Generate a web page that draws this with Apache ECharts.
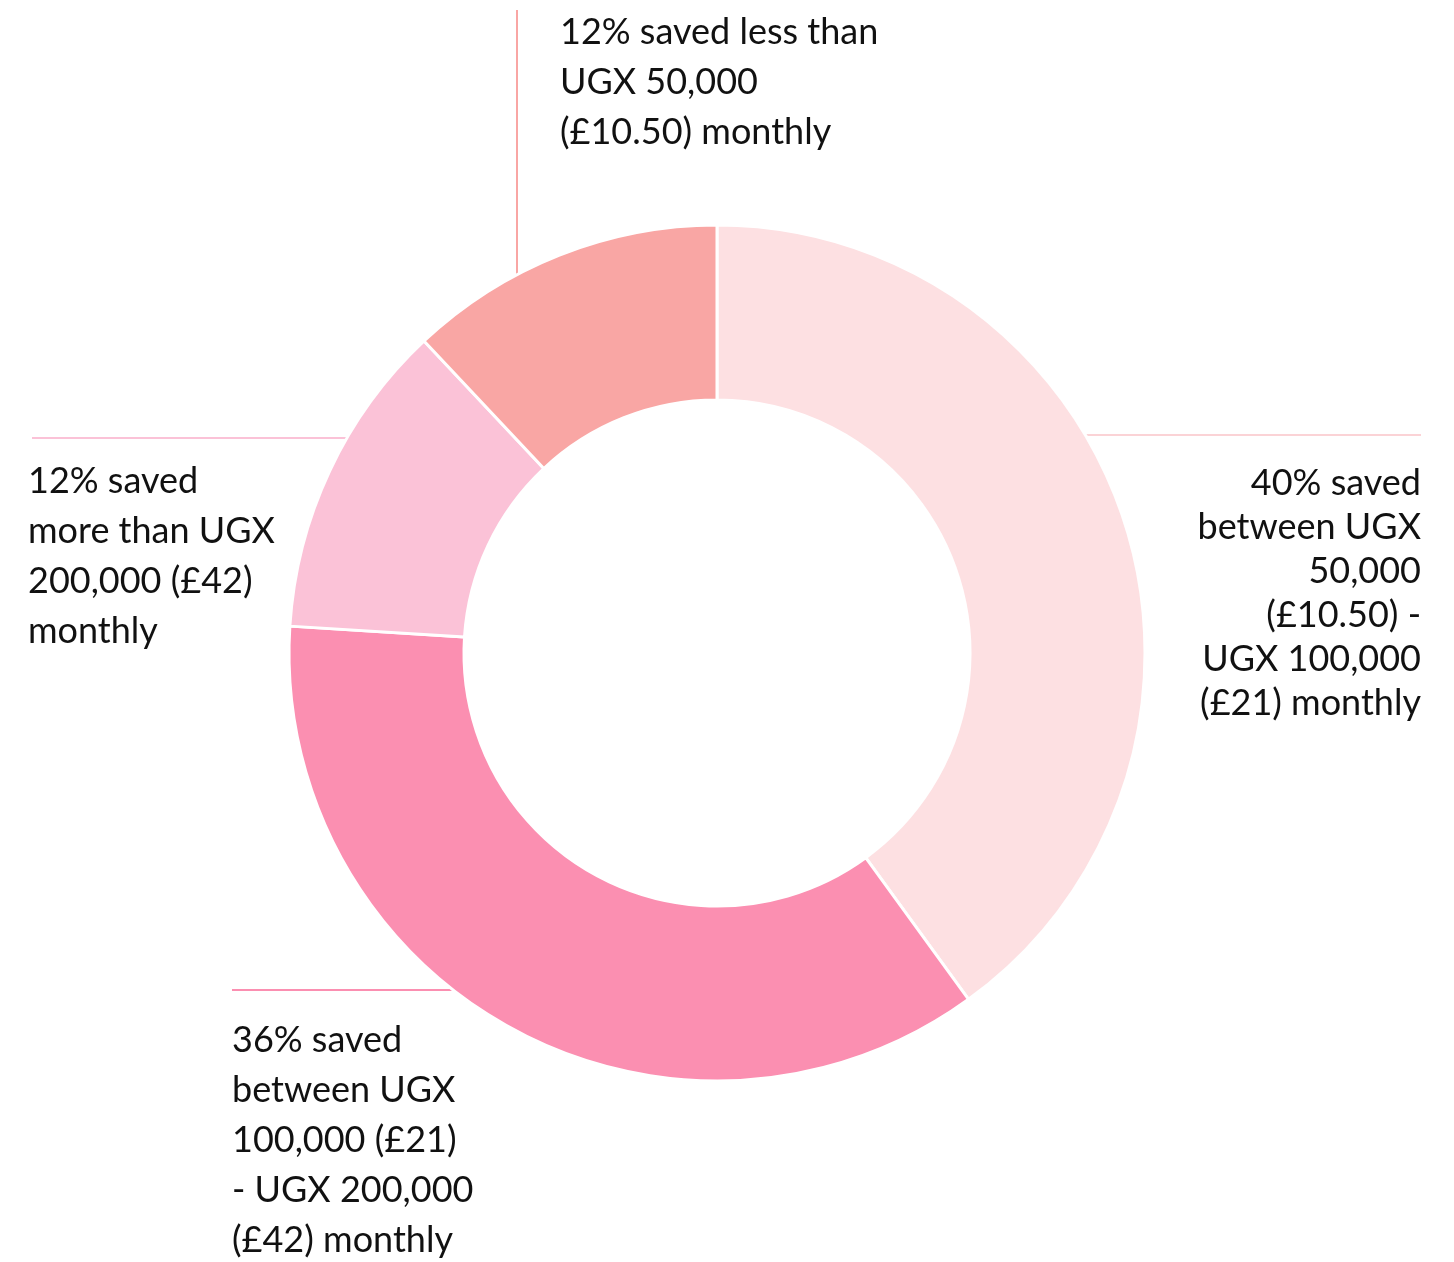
<!DOCTYPE html>
<html>
<head>
<meta charset="utf-8">
<script src="https://cdn.jsdelivr.net/npm/echarts@6/dist/echarts.min.js"></script>
<style>
html,body{margin:0;padding:0;background:#fff;}
#c{width:1454px;height:1262px;}
</style>
</head>
<body>
<div id="c"></div>
<script>
// ---- data ----
const categories = [
  "40% saved\nbetween UGX\n50,000\n(£10.50) -\nUGX 100,000\n(£21) monthly",
  "36% saved\nbetween UGX\n100,000 (£21)\n- UGX 200,000\n(£42) monthly",
  "12% saved\nmore than UGX\n200,000 (£42)\nmonthly",
  "12% saved less than\nUGX 50,000\n(£10.50) monthly"
];
const values = [40, 36, 12, 12];
const colors = ["#fde0e2", "#fb8fb1", "#fbc2d7", "#f9a6a4"];

// ---- layout (positions of labels / leader lines) ----
const CX = 717, CY = 653, R0 = 253, R1 = 428;
const labelLayouts = [
  {x: 1421, y: 461, align: 'right', lh: 44, line: {dir: 'h', at: 435, side: 1, end: 1421}},
  {x: 232, y: 1015, align: 'left', lh: 50, line: {dir: 'h', at: 990, side: -1, end: 232}},
  {x: 28, y: 456, align: 'left', lh: 50, line: {dir: 'h', at: 438, side: -1, end: 32}},
  {x: 560, y: 7, align: 'left', lh: 50, line: {dir: 'v', at: 517, side: -1, end: 10}}
];

function linePts(l) {
  if (l.dir === 'h') {
    const dx = Math.sqrt(R1 * R1 - (l.at - CY) * (l.at - CY));
    const sx = CX + l.side * dx;
    return [[sx, l.at], [sx, l.at], [l.end, l.at]];
  } else {
    const dy = Math.sqrt(R1 * R1 - (l.at - CX) * (l.at - CX));
    const sy = CY + l.side * dy;
    return [[l.at, sy], [l.at, sy], [l.at, l.end]];
  }
}

const chart = echarts.init(document.getElementById('c'), null, {renderer: 'canvas'});
chart.setOption({
  animation: false,
  series: [{
    type: 'pie',
    center: [CX, CY],
    radius: [R0, R1],
    startAngle: 90,
    clockwise: true,
    avoidLabelOverlap: false,
    itemStyle: {borderColor: '#fff', borderWidth: 3},
    emphasis: {disabled: true},
    label: {
      show: true,
      formatter: p => p.name,
      fontFamily: 'Lato',
      fontSize: 36,
      color: '#111'
    },
    labelLine: {show: true, lineStyle: {width: 2}},
    labelLayout: function (params) {
      const L = labelLayouts[params.dataIndex];
      return {
        x: L.x, y: L.y, align: L.align, verticalAlign: 'top',
        labelLinePoints: linePts(L.line)
      };
    },
    data: values.map((v, i) => ({
      value: v,
      name: categories[i],
      itemStyle: {color: colors[i]},
      label: {lineHeight: labelLayouts[i].lh, align: labelLayouts[i].align},
      labelLine: {lineStyle: {color: colors[i] === '#fde0e2' ? '#fbd3d6' : colors[i]}}
    }))
  }]
});
</script>
</body>
</html>
